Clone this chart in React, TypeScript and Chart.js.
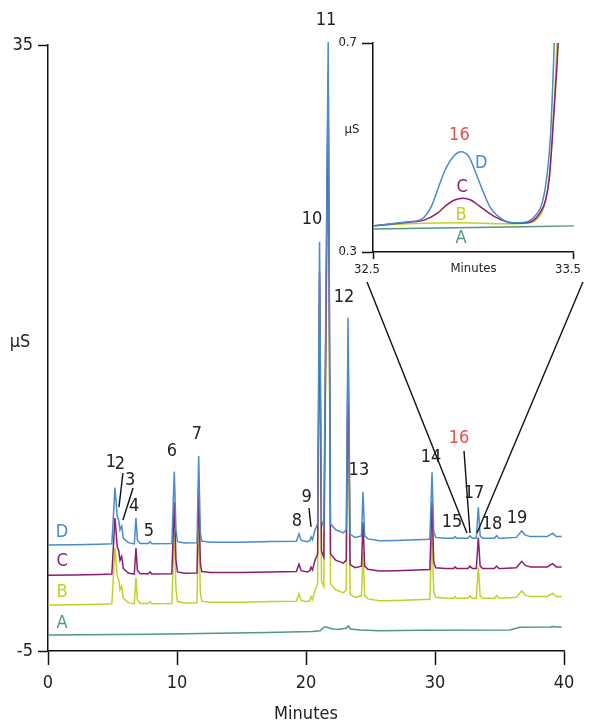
import React, { useEffect, useRef } from 'react';
import { Chart, registerables } from 'chart.js';
Chart.register(...registerables);

const FONT = '"Liberation Sans Narrow", "DejaVu Sans Condensed", "Roboto", sans-serif';

// ---------- main chromatogram data ----------
const xTicks = [0, 10, 20, 30, 40];
const yTicks = [-5, 35];

// retention times (min) of the plotted points, shared by traces D, C, B
const mainTimes = [
  0.0, 2.0, 4.0, 4.95, 5.19, 5.37, 5.48, 5.58, 5.71, 5.84, 6.23, 6.69, 6.82, 6.93, 7.15, 7.78, 7.91, 8.05,
  9.6, 9.79, 9.92, 10.04, 10.6, 11.55, 11.68, 11.81, 11.92, 12.6, 15.0, 17.3, 19.25, 19.46, 19.62, 20.1,
  20.3, 20.39, 20.5, 20.7, 20.9, 21.05, 21.2, 21.38, 21.72, 21.9, 22.3, 22.9, 23.12, 23.26, 23.42, 23.8,
  24.3, 24.42, 24.55, 24.8, 25.7, 27.0, 29.6, 29.77, 29.9, 30.05, 30.8, 31.45, 31.55, 31.7, 32.55, 32.71,
  32.9, 33.2, 33.36, 33.5, 33.7, 34.6, 34.78, 34.95, 35.2, 36.3, 36.72, 37.0, 37.4, 38.7, 39.12, 39.4, 39.82,
];
// conductivity above each trace's own baseline (µS)
const mainSignal = [
  0.0, 0.02, 0.05, 0.08, 3.78, 1.87, 1.65, 0.99, 1.25, 0.44, 0.15, 0.07, 1.8, 0.33, 0.1, 0.1, 0.22, 0.08,
  0.1, 4.84, 1.0, 0.22, 0.13, 0.15, 5.87, 0.8, 0.25, 0.18, 0.18, 0.22, 0.24, 0.73, 0.3, 0.22,
  0.3, 0.53, 0.35, 0.99, 1.4, 20.0, 1.6, 1.2, 33.2, 1.4, 1.0, 0.8, 1.0, 15.0, 0.7, 0.5,
  0.6, 3.5, 0.6, 0.4, 0.28, 0.3, 0.38, 4.8, 0.9, 0.5, 0.44, 0.44, 0.55, 0.44, 0.44, 0.6,
  0.44, 0.44, 2.49, 0.6, 0.44, 0.44, 0.61, 0.45, 0.44, 0.5, 0.92, 0.65, 0.55, 0.55, 0.77, 0.55, 0.55,
];
const traceNames = ['D', 'C', 'B'];
const traceOffsets = [2.0, 0.0, -1.96];

// trace A (blank)
const blankTimes = [0, 8, 17, 20.5, 21.1, 21.35, 21.5, 21.8, 22.1, 22.6, 23.1, 23.28, 23.45, 24.2, 25.7, 29, 35.8, 36.6, 38.9, 39.15, 39.4, 39.82];
const blankValues = [-3.94, -3.9, -3.78, -3.72, -3.66, -3.46, -3.4, -3.48, -3.55, -3.57, -3.5, -3.35, -3.55, -3.62, -3.66, -3.63, -3.62, -3.44, -3.42, -3.38, -3.42, -3.41];

const colors: Record<string, string> = { D: '#4a8bcb', C: '#8c1e71', B: '#c4d02a', A: '#4d9a7c' };
const RED = '#ee4a4a';

// peak labels: [text, time, µS]
const peakLabels: [string, number, number][] = [
  ['1', 4.88, 7.48], ['2', 5.58, 7.34], ['3', 6.36, 6.29], ['4', 6.67, 4.57], ['5', 7.83, 2.92],
  ['6', 9.61, 8.2], ['7', 11.55, 9.32], ['8', 19.3, 3.58], ['9', 20.05, 5.17], ['10', 20.47, 23.5],
  ['11', 21.55, 36.65], ['12', 22.95, 18.37], ['13', 24.1, 6.95], ['14', 29.69, 7.8], ['15', 31.32, 3.51],
  ['16', 31.86, 9.06], ['17', 33.02, 5.43], ['18', 34.42, 3.38], ['19', 36.36, 3.78],
];
// leader lines: [t1, v1, t2, v2]
const leaderLines: [number, number, number, number][] = [
  [5.81, 6.75, 5.5, 4.5],
  [6.59, 5.76, 5.81, 3.65],
  [20.23, 4.44, 20.39, 3.19],
  [32.25, 8.2, 32.71, 2.79],
  [24.73, 19.36, 32.48, 2.79],
  [41.47, 19.36, 33.26, 2.79],
];
const traceLabelTime = 1.09;
const traceLabelNames = ['D', 'C', 'B', 'A'];
const traceLabelValues = [2.85, 0.94, -1.1, -3.15];

// ---------- inset data (32.5–33.5 min) ----------
const insetXTicks = [32.5, 33.5];
const insetYTicks = [0.3, 0.7];
const insetTimesD = [32.5, 32.676, 32.74, 32.79, 32.827, 32.859, 32.898, 32.938, 32.978, 33.006, 33.038, 33.081, 33.136, 33.2, 33.255, 33.303, 33.343, 33.367, 33.383, 33.394, 33.402];
const insetD = [0.35, 0.358, 0.3625, 0.387, 0.425, 0.457, 0.482, 0.492, 0.482, 0.457, 0.425, 0.387, 0.3645, 0.356, 0.357, 0.3676, 0.396, 0.4506, 0.521, 0.6165, 0.7025];
const insetTimesC = [32.5, 32.676, 32.755, 32.819, 32.867, 32.906, 32.949, 32.986, 33.033, 33.105, 33.2, 33.279, 33.327, 33.359, 33.378, 33.398, 33.414, 33.424];
const insetC = [0.35, 0.357, 0.361, 0.374, 0.39, 0.3995, 0.4027, 0.3995, 0.387, 0.3676, 0.355, 0.357, 0.3727, 0.3995, 0.444, 0.5527, 0.648, 0.7186];
const insetTimesB = [32.5, 32.676, 32.946, 33.151, 33.263, 33.319, 33.351, 33.375, 33.39, 33.403, 33.413, 33.416];
const insetB = [0.35, 0.354, 0.356, 0.354, 0.355, 0.364, 0.387, 0.438, 0.508, 0.597, 0.68, 0.712];
const insetTimesA = [32.5, 33.0, 33.5];
const insetA = [0.344, 0.347, 0.35];
// inset labels: [text, time, µS, colour key]
const insetLabels: [string, number, number, string][] = [
  ['16', 32.93, 0.524, 'red'], ['D', 33.038, 0.47, 'D'], ['C', 32.943, 0.424, 'C'],
  ['B', 32.938, 0.371, 'B'], ['A', 32.938, 0.327, 'A'],
];

const toXY = (ts: number[], vs: number[], off = 0) => ts.map((t, i) => ({ x: t, y: vs[i] + off }));

export default function App() {
  const mainRef = useRef<HTMLCanvasElement>(null);
  const insetRef = useRef<HTMLCanvasElement>(null);

  useEffect(() => {
    document.body.style.margin = '0';
    const datasets: any[] = traceNames.map((n, k) => ({
      label: n,
      data: toXY(mainTimes, mainSignal, traceOffsets[k]),
      borderColor: colors[n],
      borderWidth: 1.5,
      pointRadius: 0,
      tension: 0,
      clip: 10,
    }));
    datasets.push({
      label: 'A',
      data: toXY(blankTimes, blankValues),
      borderColor: colors.A,
      borderWidth: 1.5,
      pointRadius: 0,
      tension: 0,
      clip: 10,
    });

    const mainPlugin = {
      id: 'mainAnnotations',
      afterDraw(chart: any) {
        const { ctx, scales, chartArea } = chart;
        const x = scales.x, y = scales.y;
        ctx.save();
        ctx.strokeStyle = '#111';
        ctx.lineWidth = 1.4;
        leaderLines.forEach(([t1, v1, t2, v2]) => {
          ctx.beginPath();
          ctx.moveTo(x.getPixelForValue(t1), y.getPixelForValue(v1));
          ctx.lineTo(x.getPixelForValue(t2), y.getPixelForValue(v2));
          ctx.stroke();
        });
        ctx.font = `18px ${FONT}`;
        ctx.textAlign = 'center';
        ctx.textBaseline = 'middle';
        peakLabels.forEach(([txt, t, v]) => {
          ctx.fillStyle = txt === '16' ? RED : '#222';
          ctx.fillText(txt, x.getPixelForValue(t), y.getPixelForValue(v));
        });
        traceLabelNames.forEach((n, i) => {
          ctx.fillStyle = colors[n];
          ctx.fillText(n, x.getPixelForValue(traceLabelTime), y.getPixelForValue(traceLabelValues[i]));
        });
        ctx.fillStyle = '#222';
        ctx.fillText('µS', chartArea.left - 28, (chartArea.top + chartArea.bottom) / 2 - 6);
        ctx.restore();
      },
    };

    const main = new Chart(mainRef.current!, {
      type: 'line',
      data: { datasets },
      options: {
        animation: false,
        responsive: false,
        devicePixelRatio: 1,
        layout: { padding: { top: 45, right: 26, left: 0, bottom: 0 } },
        plugins: { legend: { display: false }, tooltip: { enabled: false } },
        scales: {
          x: {
            type: 'linear',
            min: 0,
            max: 40,
            afterBuildTicks: (s: any) => { s.ticks = xTicks.map((v) => ({ value: v })); },
            afterFit: (s: any) => { s.height = 72; },
            grid: { drawOnChartArea: false, drawTicks: true, tickLength: 14, tickColor: '#111', tickWidth: 1.5 },
            border: { display: true, color: '#111', width: 1.5 },
            ticks: { font: { family: FONT, size: 18 }, color: '#222', padding: 8, maxRotation: 0 },
            title: { display: true, text: 'Minutes', font: { family: FONT, size: 18, lineHeight: 1 }, color: '#222', padding: { top: 0, bottom: 0 } },
          },
          y: {
            type: 'linear',
            min: -5,
            max: 35,
            afterBuildTicks: (s: any) => { s.ticks = yTicks.map((v) => ({ value: v })); },
            afterFit: (s: any) => { s.width = 48; },
            grid: { drawOnChartArea: false, drawTicks: true, tickLength: 10, tickColor: '#111', tickWidth: 1.5 },
            border: { display: true, color: '#111', width: 1.5 },
            ticks: { font: { family: FONT, size: 18 }, color: '#222', padding: 5 },
          },
        },
      },
      plugins: [mainPlugin],
    } as any);

    const insetSets = [
      { label: 'D', data: toXY(insetTimesD, insetD), borderColor: colors.D },
      { label: 'C', data: toXY(insetTimesC, insetC), borderColor: colors.C },
      { label: 'B', data: toXY(insetTimesB, insetB), borderColor: colors.B },
      { label: 'A', data: toXY(insetTimesA, insetA), borderColor: colors.A },
    ].map((d) => ({ ...d, borderWidth: 1.5, pointRadius: 0, cubicInterpolationMode: 'monotone' }));

    const insetPlugin = {
      id: 'insetAnnotations',
      afterDraw(chart: any) {
        const { ctx, scales, chartArea } = chart;
        const x = scales.x, y = scales.y;
        ctx.save();
        ctx.textAlign = 'center';
        ctx.textBaseline = 'middle';
        ctx.font = `18px ${FONT}`;
        insetLabels.forEach(([txt, t, v, c]) => {
          ctx.fillStyle = c === 'red' ? RED : colors[c];
          ctx.fillText(txt, x.getPixelForValue(t), y.getPixelForValue(v));
        });
        ctx.font = `13px ${FONT}`;
        ctx.fillStyle = '#222';
        ctx.fillText('µS', chartArea.left - 21, chartArea.top + 87);
        ctx.restore();
      },
    };

    const inset = new Chart(insetRef.current!, {
      type: 'line',
      data: { datasets: insetSets as any },
      options: {
        animation: false,
        responsive: false,
        devicePixelRatio: 1,
        layout: { padding: { top: 23, right: 7, left: 0, bottom: 0 } },
        plugins: { legend: { display: false }, tooltip: { enabled: false } },
        scales: {
          x: {
            type: 'linear',
            min: 32.5,
            max: 33.5,
            afterBuildTicks: (s: any) => { s.ticks = insetXTicks.map((v) => ({ value: v })); },
            afterFit: (s: any) => { s.height = 33; },
            grid: { drawOnChartArea: false, drawTicks: true, tickLength: 7, tickColor: '#111', tickWidth: 1.5 },
            border: { display: true, color: '#111', width: 1.5 },
            ticks: { font: { family: FONT, size: 13 }, color: '#222', padding: 3, labelOffset: -6, maxRotation: 0, callback: (v: any) => Number(v).toFixed(1) },
            title: { display: true, text: 'Minutes', font: { family: FONT, size: 13, lineHeight: 1 }, color: '#222', padding: { top: 0, bottom: 10 } },
          },
          y: {
            type: 'linear',
            min: 0.3,
            max: 0.7,
            afterBuildTicks: (s: any) => { s.ticks = insetYTicks.map((v) => ({ value: v })); },
            afterFit: (s: any) => { s.width = 53; },
            grid: { drawOnChartArea: false, drawTicks: true, tickLength: 11, tickColor: '#111', tickWidth: 1.5 },
            border: { display: true, color: '#111', width: 1.5 },
            ticks: { font: { family: FONT, size: 13 }, color: '#222', padding: 5, callback: (v: any) => Number(v).toFixed(1) },
          },
        },
      },
      plugins: [insetPlugin],
    } as any);

    return () => {
      main.destroy();
      inset.destroy();
    };
  }, []);

  return (
    <div style={{ position: 'relative', width: 590, height: 723, background: '#fff' }}>
      <canvas ref={mainRef} width={590} height={723} style={{ position: 'absolute', left: 0, top: 0 }} />
      <canvas ref={insetRef} width={270} height={265} style={{ position: 'absolute', left: 320, top: 20 }} />
    </div>
  );
}
